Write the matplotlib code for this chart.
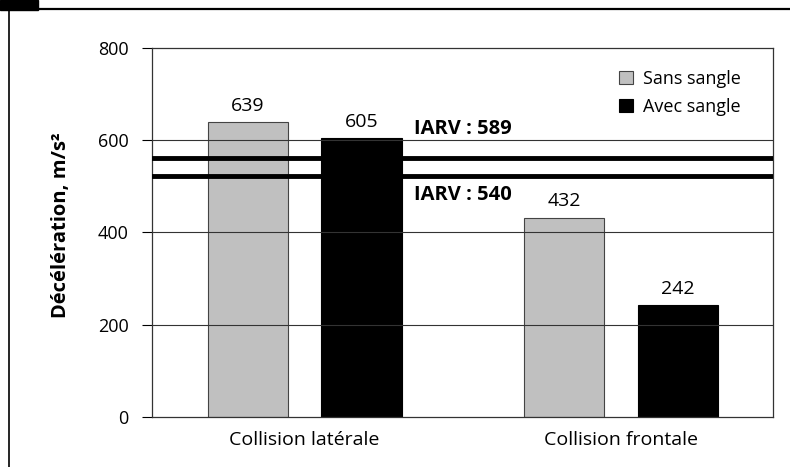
import matplotlib.pyplot as plt
from matplotlib.lines import Line2D
from matplotlib.patches import Rectangle

plt.rcParams['font.family'] = ['Open Sans', 'DejaVu Sans']

# données
categories = ['Collision latérale', 'Collision frontale']
sans_sangle = [639, 432]
avec_sangle = [605, 242]
iarv_labels = [589, 540]
iarv_lines = [561, 522]  # position des traits épais
yticks = [0, 200, 400, 600, 800]

fig = plt.figure(figsize=(7.9, 4.67), dpi=100)
ax = fig.add_axes([0.1924, 0.1071, 0.7861, 0.7901])

x = list(range(len(categories)))
w = 0.253
off = 0.18
b1 = ax.bar([i - off for i in x], sans_sangle, w, color='#c0c0c0',
            edgecolor='#444444', linewidth=0.8, label='Sans sangle', zorder=2)
b2 = ax.bar([i + off for i in x], avec_sangle, w, color='black',
            edgecolor='black', linewidth=0.8, label='Avec sangle', zorder=2)

for bars in (b1, b2):
    for r in bars:
        ax.text(r.get_x() + r.get_width()/2, r.get_height() + 16,
                '%d' % r.get_height(), ha='center', va='bottom', fontsize=14)

# grille horizontale par-dessus les barres
for yv in yticks[1:-1]:
    ax.axhline(yv, color='#333333', lw=0.8, zorder=3)

for yv in iarv_lines:
    ax.axhline(yv, color='black', lw=3.5, zorder=4)

ax.text(0.345, iarv_lines[0] + 42, 'IARV : %d' % iarv_labels[0],
        fontsize=14.5, fontweight='bold', ha='left', va='bottom')
ax.text(0.345, iarv_lines[1] - 20, 'IARV : %d' % iarv_labels[1],
        fontsize=14.5, fontweight='bold', ha='left', va='top')

ax.set_xlim(-0.482, 1.48)
ax.set_ylim(0, 800)
ax.set_yticks(yticks)
ax.set_yticklabels([str(v) for v in yticks], fontsize=13)
ax.tick_params(axis='y', length=7, width=0.8, pad=10)
ax.set_xticks(x)
ax.set_xticklabels(categories, fontsize=14)
ax.tick_params(axis='x', length=0, pad=10)
for s in ax.spines.values():
    s.set_linewidth(0.9)
    s.set_color('#333333')

ax.set_ylabel('Décélération, m/s²', fontsize=14.5, fontweight='bold', labelpad=18)
ax.yaxis.set_label_coords(-0.13, 0.52)

leg = ax.legend(loc='upper right', bbox_to_anchor=(0.975, 0.985), frameon=False,
                fontsize=13, handlelength=0.75, handleheight=0.75,
                handletextpad=0.6, labelspacing=0.55)

# cadre de la figure
fig.add_artist(Line2D([0.01, 1.0], [0.981, 0.981], color='black', lw=1.6))
fig.add_artist(Line2D([0.011, 0.011], [0.0, 0.981], color='black', lw=1.2))
fig.add_artist(Rectangle((0.0, 0.978), 0.048, 0.022, color='black',
                         transform=fig.transFigure))

fig.savefig('out.png', dpi=100)
